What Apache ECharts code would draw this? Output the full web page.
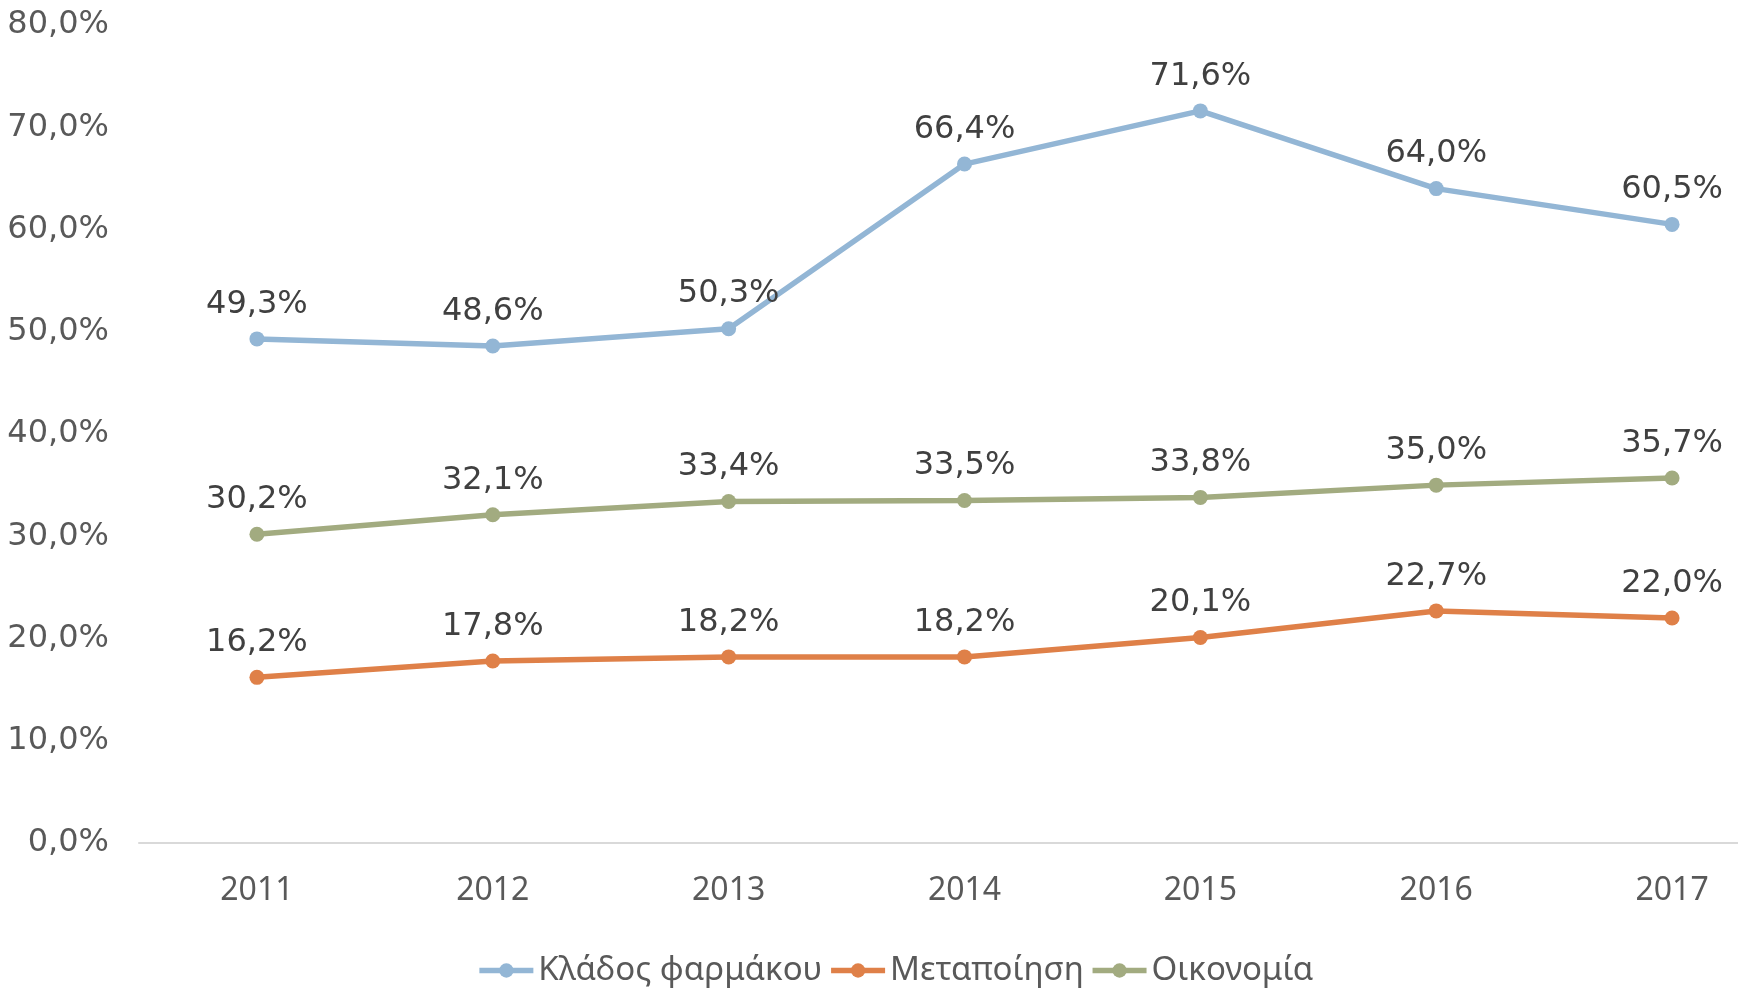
<!DOCTYPE html>
<html>
<head>
<meta charset="utf-8">
<script src="https://cdn.jsdelivr.net/npm/echarts@6/dist/echarts.min.js"></script>
<style>
html, body { margin: 0; padding: 0; background: #fff; overflow: hidden; }
/* το αρχικό γράφημα είναι πλατύτερο και κομμένο δεξιά */
#chart { width: 1790px; height: 994px; }
</style>
</head>
<body>
<div id="chart"></div>
<script>
// κατηγορίες και τιμές (%)
var years = ['2011', '2012', '2013', '2014', '2015', '2016', '2017'];
var pharma = [49.3, 48.6, 50.3, 66.4, 71.6, 64.0, 60.5];
var manufacturing = [16.2, 17.8, 18.2, 18.2, 20.1, 22.7, 22.0];
var economy = [30.2, 32.1, 33.4, 33.5, 33.8, 35.0, 35.7];
var seriesNames = ['Κλάδος φαρμάκου', 'Μεταποίηση', 'Οικονομία'];

function pct(v){
    return v.toFixed(1).replace('.', ',') + '%';
}

function make_line(name, data, color){
    return {
        name: name,
        type: 'line',
        data: data,
        symbol: 'circle',
        symbolSize: 15,
        lineStyle: { width: 5.5, color: color },
        itemStyle: { color: color },
        label: {
            show: true,
            position: 'top',
            distance: 11,
            color: '#404040',
            fontFamily: 'DejaVu Sans',
            fontSize: 32,
            formatter: function(p){ return pct(p.value); }
        }
    };
}

var chart = echarts.init(document.getElementById('chart'));
var option = {
    animation: false,
    grid: {
        left: 139,
        right: 0,
        top: 25,
        bottom: 151
    },
    legend: {
        data: seriesNames,
        bottom: 2,
        left: 'center',
        itemWidth: 54,
        itemHeight: 18,
        itemGap: 6,
        lineStyle: { width: 5.5 },
        textStyle: {
            color: '#595959',
            fontFamily: 'Noto Sans',
            fontSize: 33
        }
    },
    xAxis: {
        type: 'category',
        data: years,
        axisTick: { show: false },
        axisLine: { lineStyle: { color: '#d9d9d9', width: 2 } },
        axisLabel: {
            color: '#595959',
            fontFamily: 'Noto Sans',
            fontSize: 32,
            margin: 32
        }
    },
    yAxis: {
        type: 'value',
        min: 0,
        max: 80,
        interval: 10,
        splitLine: { show: false },
        axisLabel: {
            color: '#595959',
            fontFamily: 'DejaVu Sans',
            fontSize: 32,
            margin: 30,
            formatter: function(v){ return pct(v); }
        }
    },
    series: [
        make_line(seriesNames[0], pharma, '#93B6D5'),
        make_line(seriesNames[1], manufacturing, '#DF8048'),
        make_line(seriesNames[2], economy, '#A2AB80')
    ]
};
chart.setOption(option);
</script>
</body>
</html>
